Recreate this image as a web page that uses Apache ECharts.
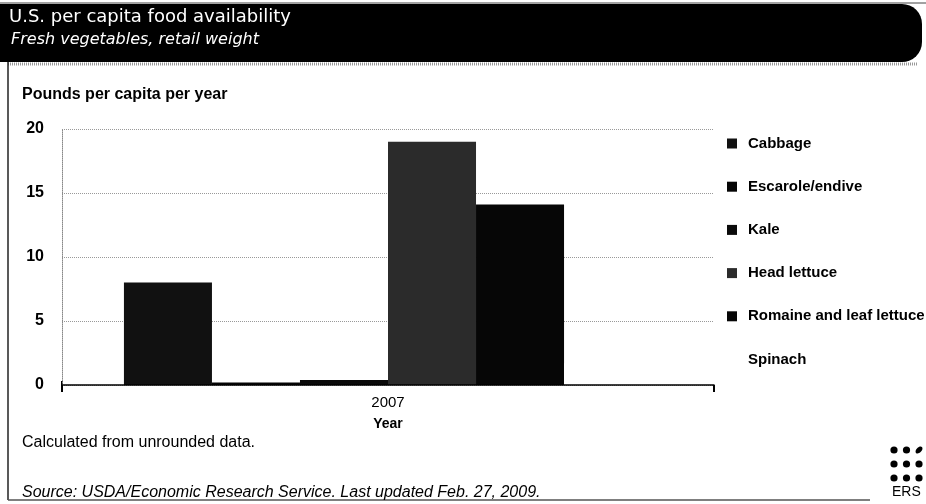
<!DOCTYPE html>
<html><head><meta charset="utf-8">
<script src="https://cdn.jsdelivr.net/npm/echarts@6/dist/echarts.min.js"></script>
<style>html,body{margin:0;padding:0;background:#fff}#c{width:926px;height:504px}</style>
</head><body><div id="c"></div>
<script>
const categories = ['2007'];
const seriesNames = ['Cabbage','Escarole/endive','Kale','Head lettuce','Romaine and leaf lettuce','Spinach'];
const seriesValues = [8.0, 0.2, 0.4, 19.0, 14.1, 1.7];
const seriesColors = ['#111111','#050505','#0a0a0a','#2b2b2b','#060606','#ffffff'];
const yTicks = [0, 5, 10, 15, 20];

const F = 'Liberation Sans, Arial, sans-serif';
const chart = echarts.init(document.getElementById('c'), null, {renderer:'canvas'});

const dots = [];
for (let r = 0; r < 3; r++) for (let c = 0; c < 3; c++) {
  if (r === 0 && c === 2) {
    dots.push({type:'ellipse', shape:{cx:0, cy:0, rx:4.2, ry:2.6}, x:919, y:450, rotation:Math.PI/4, style:{fill:'#000'}});
  } else {
    dots.push({type:'circle', shape:{cx:894 + c*12.5, cy:450 + r*14, r:3.6}, style:{fill:'#000'}});
  }
}

chart.setOption({
  animation:false,
  backgroundColor:'#fff',
  textStyle:{fontFamily:F},
  grid:{left:62, right:212, top:129, bottom:119, containLabel:false},
  legend:{
    orient:'vertical', left:722, top:131, itemWidth:10, itemHeight:10, itemGap:28.2,
    icon:'rect',
    textStyle:{fontFamily:F, fontSize:15, fontWeight:'bold', color:'#000', padding:[0,0,0,6]},
    data:seriesNames.map((n,i)=>({name:n, itemStyle:{color: seriesColors[i]}}))
  },
  xAxis:{
    type:'category', data:categories, boundaryGap:true, z:5,
    axisLine:{lineStyle:{color:'#000', width:1.5}},
    axisTick:{show:true, length:7, inside:false, lineStyle:{color:'#000', width:2}},
    axisLabel:{fontFamily:F, fontSize:15, color:'#000', margin:10},
    name:'Year', nameLocation:'middle', nameGap:32,
    nameTextStyle:{fontFamily:F, fontSize:14, fontWeight:'bold', color:'#000'}
  },
  yAxis:{
    type:'value', min:0, max:20, interval:5,
    axisLine:{show:true, lineStyle:{color:'#888', type:'dotted', width:1}},
    axisTick:{show:false},
    splitLine:{lineStyle:{color:'#999', type:'dotted', width:1}},
    axisLabel:{fontFamily:F, fontSize:16, fontWeight:'bold', color:'#000', margin:18,
      formatter:v => yTicks.includes(v) ? String(v) : ''}
  },
  series: seriesNames.map((n,i)=>({
    name:n, type:'bar', data:[seriesValues[i]],
    itemStyle:{color:seriesColors[i]},
    barGap:'0%', barCategoryGap:'19%'
  })),
  graphic:[
    {type:'rect', shape:{x:0, y:4, width:922, height:58, r:[0,20,20,0]}, style:{fill:'#000'}},
    {type:'line', shape:{x1:0, y1:3, x2:926, y2:3}, style:{stroke:'#444', lineWidth:1}},
    {type:'line', shape:{x1:8, y1:64, x2:918, y2:64}, style:{stroke:'#999', lineWidth:3, lineDash:[1,1]}},
    {type:'line', shape:{x1:8, y1:62, x2:8, y2:500}, style:{stroke:'#222', lineWidth:1.5}},
    {type:'line', shape:{x1:8, y1:500, x2:870, y2:500}, style:{stroke:'#555', lineWidth:1.5}},
    {type:'line', shape:{x1:62, y1:381, x2:62, y2:391}, style:{stroke:'#000', lineWidth:2}},
    {type:'text', x:9, y:8, style:{text:'U.S. per capita food availability', fill:'#fff', font:'18px DejaVu Sans'}},
    {type:'text', x:11, y:32, style:{text:'Fresh vegetables, retail weight', fill:'#fff', font:'italic 16px DejaVu Sans'}},
    {type:'text', x:22, y:87, style:{text:'Pounds per capita per year', fill:'#000', font:'bold 16px '+F}},
    {type:'text', x:22, y:435, style:{text:'Calculated from unrounded data.', fill:'#000', font:'16px '+F}},
    {type:'text', x:22, y:485, style:{text:'Source: USDA/Economic Research Service. Last updated Feb. 27, 2009.', fill:'#000', font:'italic 16px '+F}},
    ...dots,
    {type:'text', x:892, y:485, style:{text:'ERS', fill:'#000', font:'14px '+F}}
  ]
});
</script></body></html>
